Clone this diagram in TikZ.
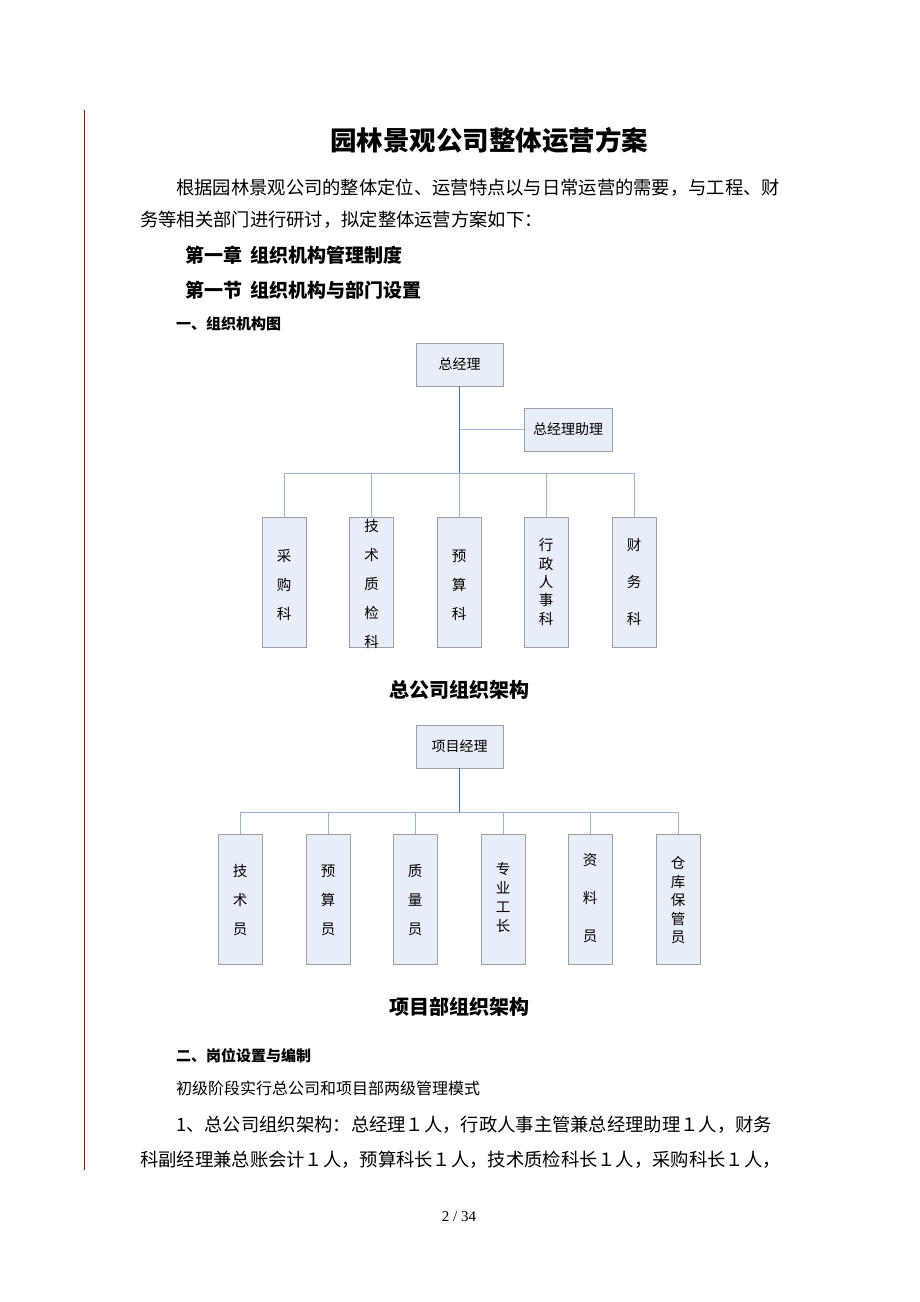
\documentclass[tikz,border=0pt]{standalone}
\usepackage{fontspec}
\setmainfont{Noto Sans CJK SC}
\newfontfamily\pgfont{Liberation Serif}
\definecolor{boxfill}{HTML}{E8EEF7}
\definecolor{linkc}{HTML}{4A72B0}
\definecolor{thinc}{HTML}{9DB4D8}
\begin{document}
\begin{tikzpicture}[x=1pt,y=-1pt,
  box/.style={draw=gray!75,fill=boxfill,line width=0.8pt,inner sep=0},
  link/.style={draw=linkc,line width=0.6pt},
  thin/.style={draw=thinc,line width=0.5pt},
  body/.style={anchor=west,inner sep=0,font=\fontsize{16}{16}\selectfont},
  vt/.style={inner sep=0,align=center,font=\fontsize{14.5}{#1}\selectfont},
  vt/.default=29pt]
\useasboundingbox (0,0) rectangle (920,1302);
\draw[red!60!black,line width=0.8pt] (84,110) -- (84,1170);
\node[font=\fontsize{26.5}{27}\selectfont\bfseries] (title) at (489,140) {园林景观公司整体运营方案};
\node[body] (p1) at (176,188) {\fontsize{18.3}{19}\selectfont 根据园林景观公司的整体定位、运营特点以与日常运营的需要，与工程、财};
\node[body] (p2) at (140,220) {\fontsize{18.3}{19}\selectfont 务等相关部门进行研讨，拟定整体运营方案如下：};
\node[body,font=\fontsize{19}{19}\selectfont\bfseries] (h1) at (185,255) {第一章\ \ 组织机构管理制度};
\node[body,font=\fontsize{19}{19}\selectfont\bfseries] (h2) at (185,290) {第一节\ \ 组织机构与部门设置};
\node[body,font=\fontsize{15}{15}\selectfont\bfseries] (h3) at (176,324) {一、组织机构图};
% chart 1
\node[box,minimum width=87,minimum height=43,font=\fontsize{14}{14}\selectfont] (gm) at (459.5,364.5) {总经理};
\node[box,minimum width=88,minimum height=43,font=\fontsize{14}{14}\selectfont] (asst) at (568,429.5) {总经理助理};
\coordinate (bus1) at (459.5,473);
\coordinate (aj) at (459.5,429.5);
\draw[link] (gm.south) -- (bus1);
\draw[thin] (aj) -- (asst.west);
\foreach \n/\x in {a/284,b/371.5,c/459,d/546,e/634}{
  \node[box,minimum width=44,minimum height=130] (c\n) at (\x,582) {};
  \draw[thin] (bus1 -| c\n.north) -- (c\n.north);
}
\draw[thin] (bus1 -| ca.north) -- (bus1 -| ce.north);
\node[vt] (ta) at (284,585) {采\\购\\科};
\node[vt] (tb) at (371.5,584) {技\\术\\质\\检\\科};
\node[vt] (tc) at (459,585) {预\\算\\科};
\node[vt=18.3pt] (td) at (546,582) {行\\政\\人\\事\\科};
\node[vt=37pt] (te) at (634,582) {财\\务\\科};
\node[font=\fontsize{20}{20}\selectfont\bfseries] (cap1) at (459,690) {总公司组织架构};
% chart 2
\node[box,minimum width=87,minimum height=43,font=\fontsize{14}{14}\selectfont] (pm) at (459.5,746.5) {项目经理};
\coordinate (bus2) at (459.5,812);
\draw[link] (pm.south) -- (bus2);
\foreach \n/\x in {a/240,b/328,c/415,d/503,e/590,f/678}{
  \node[box,minimum width=44,minimum height=130] (s\n) at (\x,899) {};
  \draw[thin] (bus2 -| s\n.north) -- (s\n.north);
}
\draw[thin] (bus2 -| sa.north) -- (bus2 -| sf.north);
\node[vt] (ua) at (240,900) {技\\术\\员};
\node[vt] (ub) at (328,900) {预\\算\\员};
\node[vt] (uc) at (415,900) {质\\量\\员};
\node[vt=19pt] (ud) at (503,897) {专\\业\\工\\长};
\node[vt=38pt] (ue) at (590,898) {资\\料\\员};
\node[vt=18.5pt] (uf) at (678,900) {仓\\库\\保\\管\\员};
\node[font=\fontsize{20}{20}\selectfont\bfseries] (cap2) at (459,1007) {项目部组织架构};
\node[body,font=\fontsize{15}{15}\selectfont\bfseries] (h4) at (176,1056) {二、岗位设置与编制};
\node[body] (p3) at (176,1088) {初级阶段实行总公司和项目部两级管理模式};
\node[body] (p4) at (176,1125) {\fontsize{18.3}{19}\selectfont 1、总公司组织架构：总经理１人，行政人事主管兼总经理助理１人，财务};
\node[body] (p5) at (140,1160) {\fontsize{18.3}{19}\selectfont 科副经理兼总账会计１人，预算科长１人，技术质检科长１人，采购科长１人，};
\node[font=\pgfont\fontsize{15}{15}\selectfont] (pg) at (459,1217) {2 / 34};
\end{tikzpicture}
\end{document}
